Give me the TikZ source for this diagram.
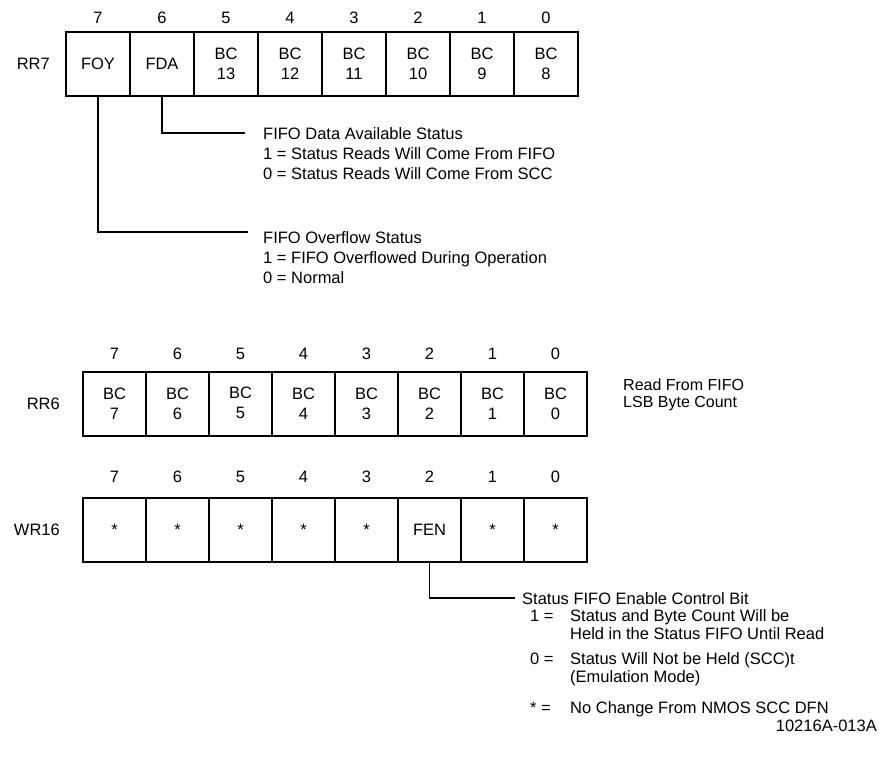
\documentclass[tikz,border=0pt]{standalone}
\usepackage{fontspec}
\setmainfont{Liberation Sans}
\usetikzlibrary{positioning}
\newcommand{\regfont}{\fontsize{16.5}{20}\selectfont}

\begin{document}
\begin{tikzpicture}[
  x=1pt, y=-1pt,
  node distance=0pt,
  bitbox/.style={rectangle, draw, line width=1.6pt, minimum height=64pt, inner sep=0pt, outer sep=0pt, align=center, font=\regfont},
  rowa/.style={bitbox, minimum width=64pt},
  rowb/.style={bitbox, minimum width=63pt},
  bitnum/.style={font=\regfont, inner sep=0pt},
  regname/.style={font=\regfont, inner sep=0pt},
  desc/.style={font=\regfont, inner sep=0pt, align=left, anchor=north west},
  lead/.style={line width=1.4pt}
]
\useasboundingbox (0,0) rectangle (885,769);

% RR7
\node[rowa] (r7b7) at (98,64) {FOY};
\node[rowa, right=of r7b7] (r7b6) {FDA};
\node[rowa, right=of r7b6] (r7b5) {BC\\13};
\node[rowa, right=of r7b5] (r7b4) {BC\\12};
\node[rowa, right=of r7b4] (r7b3) {BC\\11};
\node[rowa, right=of r7b3] (r7b2) {BC\\10};
\node[rowa, right=of r7b2] (r7b1) {BC\\9};
\node[rowa, right=of r7b1] (r7b0) {BC\\8};
\node[regname, left=16pt of r7b7] (rr7) {RR7};
\node[bitnum, above=8pt of r7b7] (r7n7) {7};
\node[bitnum, above=8pt of r7b6] (r7n6) {6};
\node[bitnum, above=8pt of r7b5] (r7n5) {5};
\node[bitnum, above=8pt of r7b4] (r7n4) {4};
\node[bitnum, above=8pt of r7b3] (r7n3) {3};
\node[bitnum, above=8pt of r7b2] (r7n2) {2};
\node[bitnum, above=8pt of r7b1] (r7n1) {1};
\node[bitnum, above=8pt of r7b0] (r7n0) {0};

\coordinate (fdaend) at (245,133);
\draw[lead] (r7b6.south) |- (fdaend);
\node[desc] (fdatext) at (263,127) {FIFO Data Available Status\\1 = Status Reads Will Come From FIFO\\0 = Status Reads Will Come From SCC};

\coordinate (foyend) at (248,232);
\draw[lead] (r7b7.south) |- (foyend);
\node[desc] (foytext) at (263,231) {FIFO Overflow Status\\1 = FIFO Overflowed During Operation\\0 = Normal};

% RR6
\node[rowb] (r6b7) at (114.5,404) {BC\\7};
\node[rowb, right=of r6b7] (r6b6) {BC\\6};
\node[rowb, right=of r6b6] (r6b5) {\raisebox{2pt}{BC}\\\raisebox{2pt}{5}};
\node[rowb, right=of r6b5] (r6b4) {BC\\4};
\node[rowb, right=of r6b4] (r6b3) {BC\\3};
\node[rowb, right=of r6b3] (r6b2) {BC\\2};
\node[rowb, right=of r6b2] (r6b1) {BC\\1};
\node[rowb, right=of r6b1] (r6b0) {BC\\0};
\node[regname, left=23pt of r6b7] (rr6) {RR6};
\node[bitnum, above=12pt of r6b7] (r6n7) {7};
\node[bitnum, above=12pt of r6b6] (r6n6) {6};
\node[bitnum, above=12pt of r6b5] (r6n5) {5};
\node[bitnum, above=12pt of r6b4] (r6n4) {4};
\node[bitnum, above=12pt of r6b3] (r6n3) {3};
\node[bitnum, above=12pt of r6b2] (r6n2) {2};
\node[bitnum, above=12pt of r6b1] (r6n1) {1};
\node[bitnum, above=12pt of r6b0] (r6n0) {0};
\node[desc, font=\fontsize{16}{16.5}\selectfont] (r6text) at (623,379) {Read From FIFO\\LSB Byte Count};

% WR16
\node[rowb] (w16b7) at (114.5,530) {*};
\node[rowb, right=of w16b7] (w16b6) {*};
\node[rowb, right=of w16b6] (w16b5) {*};
\node[rowb, right=of w16b5] (w16b4) {*};
\node[rowb, right=of w16b4] (w16b3) {*};
\node[rowb, right=of w16b3] (w16b2) {FEN};
\node[rowb, right=of w16b2] (w16b1) {*};
\node[rowb, right=of w16b1] (w16b0) {*};
\node[regname, left=23pt of w16b7] (wr16) {WR16};
\node[bitnum, above=15pt of w16b7] (w16n7) {7};
\node[bitnum, above=15pt of w16b6] (w16n6) {6};
\node[bitnum, above=15pt of w16b5] (w16n5) {5};
\node[bitnum, above=15pt of w16b4] (w16n4) {4};
\node[bitnum, above=15pt of w16b3] (w16n3) {3};
\node[bitnum, above=15pt of w16b2] (w16n2) {2};
\node[bitnum, above=15pt of w16b1] (w16n1) {1};
\node[bitnum, above=15pt of w16b0] (w16n0) {0};

\coordinate (fenend) at (515,598);
\draw[lead] (w16b2.south) |- (fenend);
\node[desc, font=\fontsize{16.5}{17.5}\selectfont] (fentext) at (522,592) {Status FIFO Enable Control Bit\\
\hspace*{8pt}\makebox[40pt][l]{1 =}Status and Byte Count Will be\\
\hspace*{48pt}Held in the Status FIFO Until Read\\[8pt]
\hspace*{8pt}\makebox[40pt][l]{0 =}Status Will Not be Held (SCC)t\\
\hspace*{48pt}(Emulation Mode)\\[14pt]
\hspace*{8pt}\makebox[40pt][l]{* =}No Change From NMOS SCC DFN};
\node[regname, anchor=east] (figid) at (877,726) {10216A-013A};
\end{tikzpicture}
\end{document}
